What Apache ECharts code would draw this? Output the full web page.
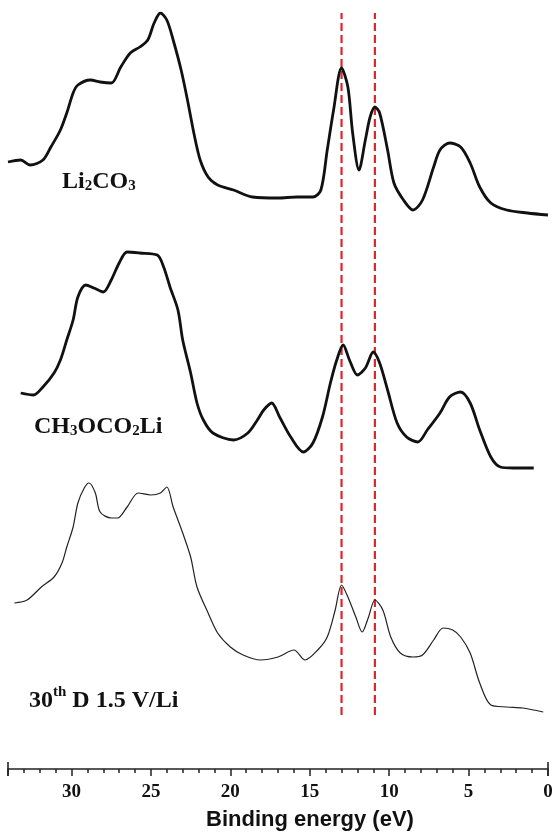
<!DOCTYPE html>
<html>
<head>
<meta charset="utf-8">
<script src="https://cdn.jsdelivr.net/npm/echarts@6/dist/echarts.min.js"></script>
<style>html,body{margin:0;padding:0;background:#fff;}#c{width:557px;height:835px;}</style>
</head>
<body>
<div id="c"></div>
<script>
// Binding energy (eV) and intensity (a.u., stacked offsets included)
const li2co3Energy = [34.0,33.2,32.6,31.8,31.3,30.7,30.3,29.9,29.6,28.8,28.2,27.5,26.9,26.3,25.7,25.2,24.8,24.4,24.0,23.6,23.1,22.7,22.3,21.9,21.4,20.8,19.8,18.6,17.0,15.8,14.8,14.3,13.9,13.5,13.0,12.6,12.3,11.9,11.5,11.2,10.9,10.6,10.1,9.7,9.1,8.5,7.9,7.2,6.8,6.2,5.5,4.9,4.3,3.6,2.6,1.3,0.0];
const li2co3Intensity = [607,609,604,609,622,639,656,676,684,689,687,686,702,716,722,729,746,756,749,729,699,669,636,609,592,584,579,572,571,572,572,579,619,659,701,682,636,599,629,652,662,656,619,586,569,559,569,602,619,626,622,606,582,566,559,556,554];

const ch3Energy = [33.2,32.4,31.8,31.1,30.7,30.3,29.9,29.6,29.1,28.6,28.0,27.5,27.0,26.5,25.7,24.6,24.2,23.8,23.3,23.0,22.5,22.1,21.7,21.1,19.8,18.9,18.3,17.9,17.4,16.9,16.2,15.4,14.8,14.2,13.7,13.3,12.9,12.5,12.0,11.5,11.0,10.6,10.1,9.5,8.9,8.2,7.6,6.8,6.2,5.5,4.9,4.3,3.6,3.0,2.2,0.9];
const ch3Intensity = [376,374,382,396,409,429,449,472,484,481,477,489,506,517,516,514,502,482,459,429,396,366,349,336,329,336,349,359,366,352,332,317,326,352,386,409,424,409,394,401,417,406,379,346,332,327,339,356,372,377,366,339,312,302,301,301];

const cycEnergy = [33.6,32.8,31.9,31.1,30.6,30.3,29.9,29.6,29.2,28.9,28.5,28.2,27.5,27.1,26.5,25.8,25.0,24.4,24.0,23.6,23.0,22.5,22.1,21.4,20.8,20.0,19.2,18.1,17.0,16.0,15.3,14.5,13.9,13.4,13.0,12.6,12.1,11.7,11.3,10.9,10.4,9.9,9.3,8.5,7.9,7.2,6.6,6.0,5.5,4.9,4.3,3.6,2.6,1.6,0.3];
const cycIntensity = [166,169,182,192,206,222,242,266,281,286,276,257,251,251,262,276,274,276,282,262,236,212,182,156,136,122,114,109,112,119,109,119,132,159,184,172,152,137,152,169,159,132,116,112,114,129,141,139,132,116,86,64,62,61,57];

const markerEnergies = [13.0, 10.9];
const markerSpan = [54, 756];
const xTicks = [0, 5, 10, 15, 20, 25, 30];
const axisEnds = [34, 0];
const endTickSpan = [-7, 7];

function zip(a, b) { return a.map((v, i) => [v, b[i]]); }

const chart = echarts.init(document.getElementById('c'));
const markerSeries = markerEnergies.map(e => ({
  type: 'line', data: markerSpan.map(v => [e, v]), symbol: 'none', silent: true, z: 1,
  lineStyle: { color: '#d8282e', width: 2.2, type: [8, 4] }
}));
const endTickSeries = axisEnds.map(e => ({
  type: 'line', data: endTickSpan.map(v => [e, v]), symbol: 'none', silent: true, clip: false, z: 4,
  lineStyle: { color: '#222', width: 1.6 }
}));

const serif = 'Liberation Serif';
const labelRich = {
  n: { fontFamily: serif, fontWeight: 'bold', fontSize: 24, verticalAlign: 'bottom', lineHeight: 28 },
  s: { fontFamily: serif, fontWeight: 'bold', fontSize: 15, verticalAlign: 'bottom', lineHeight: 22 },
  p: { fontFamily: serif, fontWeight: 'bold', fontSize: 15, verticalAlign: 'top', lineHeight: 28 }
};

chart.setOption({
  backgroundColor: '#fff',
  animation: false,
  grid: { left: 8, right: 9, top: 13, bottom: 66 },
  xAxis: {
    type: 'value', min: 0, max: 34, interval: 5, inverse: true,
    axisLine: { lineStyle: { color: '#222', width: 1.5 } },
    axisTick: { length: 7, lineStyle: { color: '#222', width: 1.5 } },
    minorTick: { show: true, splitNumber: 5, length: 4, lineStyle: { color: '#222', width: 1.5 } },
    axisLabel: {
      margin: 14, showMaxLabel: false, color: '#111',
      fontFamily: serif, fontWeight: 'bold', fontSize: 19,
      formatter: v => (xTicks.indexOf(v) >= 0 ? String(v) : '')
    },
    splitLine: { show: false }
  },
  yAxis: { type: 'value', min: 0, max: 756, show: false, splitLine: { show: false } },
  series: [
    ...markerSeries,
    ...endTickSeries,
    { type: 'line', data: zip(li2co3Energy, li2co3Intensity), symbol: 'none', smooth: 0.3, z: 3,
      lineStyle: { color: '#111', width: 2.8 } },
    { type: 'line', data: zip(ch3Energy, ch3Intensity), symbol: 'none', smooth: 0.3, z: 3,
      lineStyle: { color: '#111', width: 2.8 } },
    { type: 'line', data: zip(cycEnergy, cycIntensity), symbol: 'none', smooth: 0.3, z: 3,
      lineStyle: { color: '#222', width: 1.2 } }
  ],
  graphic: [
    { type: 'text', left: 62, top: 170, style: { text: '{n|Li}{s|2}{n|CO}{s|3}', fill: '#111', rich: labelRich } },
    { type: 'text', left: 34, top: 415, style: { text: '{n|CH}{s|3}{n|OCO}{s|2}{n|Li}', fill: '#111', rich: labelRich } },
    { type: 'text', left: 29, top: 685, style: { text: '{n|30}{p|th}{n| D 1.5 V/Li}', fill: '#111', rich: labelRich } },
    { type: 'text', x: 310, y: 820, style: {
      text: 'Binding energy (eV)', fill: '#111', align: 'center', verticalAlign: 'middle',
      fontFamily: 'Liberation Sans', fontWeight: 'bold', fontSize: 22 } }
  ]
});
</script>
</body>
</html>
